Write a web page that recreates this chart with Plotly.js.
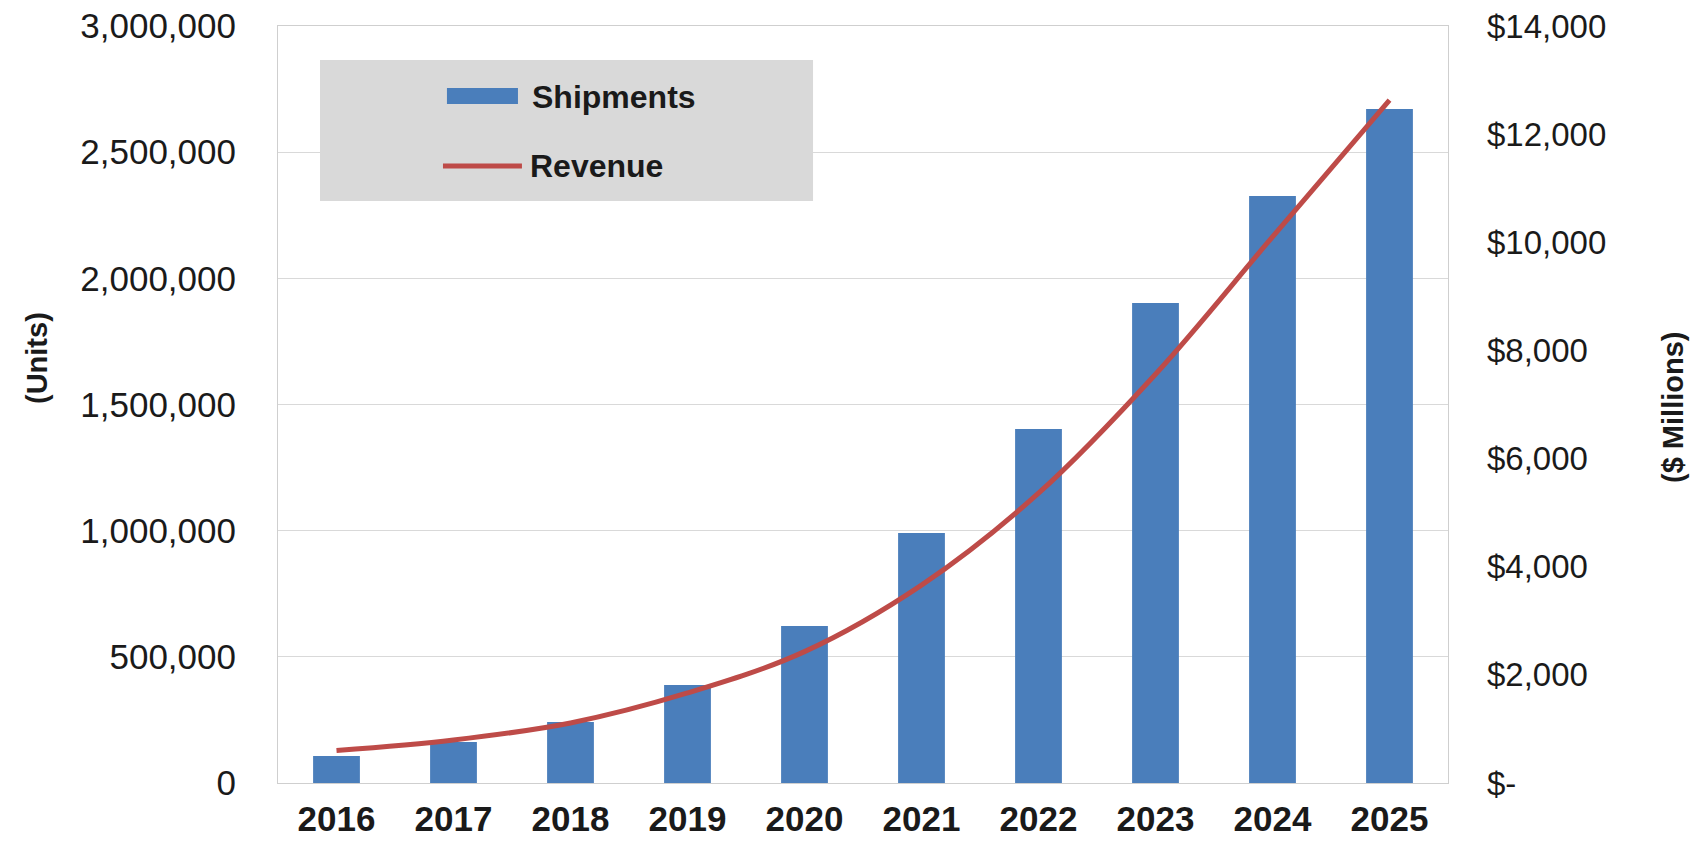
<!DOCTYPE html>
<html>
<head>
<meta charset="utf-8">
<script src="https://cdn.plot.ly/plotly-3.0.1.min.js"></script>
<style>
html,body{margin:0;padding:0;background:#fff;}
#chart{width:1691px;height:843px;}
</style>
</head>
<body>
<div id="chart"></div>
<script>
const years = ['2016','2017','2018','2019','2020','2021','2022','2023','2024','2025'];
const shipments = [107000, 162000, 242000, 388000, 622000, 991000, 1403000, 1902000, 2326000, 2671000];
const revenue = [600, 795, 1110, 1665, 2430, 3660, 5360, 7560, 10100, 12630];
const leftTicks = [0, 500000, 1000000, 1500000, 2000000, 2500000, 3000000];
const rightTicks = [0, 2000, 4000, 6000, 8000, 10000, 12000, 14000];
const rightTickText = ['$-', '$2,000', '$4,000', '$6,000', '$8,000', '$10,000', '$12,000', '$14,000'];

const barColor = '#4a7ebb';
const lineColor = '#be4b48';
const fontFam = 'Liberation Sans, Arial, sans-serif';

const traces = [
  {
    type: 'bar', name: 'Shipments', x: years, y: shipments,
    marker: {color: barColor}, yaxis: 'y', hoverinfo: 'x+y'
  },
  {
    type: 'scatter', mode: 'lines', name: 'Revenue', x: years, y: revenue,
    line: {color: lineColor, width: 5, shape: 'spline', smoothing: 1},
    yaxis: 'y2'
  }
];

const layout = {
  width: 1691, height: 843,
  margin: {l: 278, r: 243, t: 26, b: 60},
  paper_bgcolor: '#ffffff', plot_bgcolor: '#ffffff',
  showlegend: false,
  bargap: 0.6,
  font: {family: fontFam, color: '#1a1a1a'},
  xaxis: {
    type: 'category',
    tickfont: {size: 35, family: fontFam, color: '#1a1a1a', weight: 'bold'},
    showline: true, linecolor: '#cfcfcf', linewidth: 1, mirror: true,
    ticks: '', showgrid: false, ticklabelstandoff: 5
  },
  yaxis: {
    range: [0, 3000000], tickvals: leftTicks, tickformat: ',d',
    tickfont: {size: 35, family: fontFam, color: '#1a1a1a'},
    showgrid: true, gridcolor: '#d9d9d9', gridwidth: 1,
    showline: true, linecolor: '#cfcfcf', mirror: true,
    ticks: '', zeroline: false, ticklabelstandoff: 34
  },
  yaxis2: {
    range: [0, 14000], overlaying: 'y', side: 'right',
    tickvals: rightTicks, ticktext: rightTickText,
    tickfont: {size: 33, family: fontFam, color: '#1a1a1a'},
    showgrid: false, zeroline: false, ticks: '', showline: false,
    ticklabelstandoff: 38
  },
  shapes: [
    {type: 'rect', xref: 'paper', yref: 'paper', x0: 0.0359, x1: 0.4573, y0: 0.7688, y1: 0.9551,
     fillcolor: '#d9d9d9', line: {width: 0}, layer: 'above'},
    {type: 'rect', xref: 'paper', yref: 'paper', x0: 0.1444, x1: 0.2051, y0: 0.8970, y1: 0.9181,
     fillcolor: barColor, line: {width: 0}, layer: 'above'},
    {type: 'line', xref: 'paper', yref: 'paper', x0: 0.1410, x1: 0.2085, y0: 0.8151, y1: 0.8151,
     line: {color: lineColor, width: 5}, layer: 'above'}
  ],
  annotations: [
    {text: 'Shipments', xref: 'paper', yref: 'paper', x: 0.2154, y: 0.9060,
     xanchor: 'left', yanchor: 'middle', showarrow: false,
     font: {size: 32, family: fontFam, color: '#1a1a1a', weight: 'bold'}},
    {text: 'Revenue', xref: 'paper', yref: 'paper', x: 0.2137, y: 0.8151,
     xanchor: 'left', yanchor: 'middle', showarrow: false,
     font: {size: 32, family: fontFam, color: '#1a1a1a', weight: 'bold'}},
    {text: '(Units)', xref: 'paper', yref: 'paper', x: -0.206, y: 0.5614,
     xanchor: 'center', yanchor: 'middle', showarrow: false, textangle: -90,
     font: {size: 29, family: fontFam, color: '#1a1a1a', weight: 'bold'}},
    {text: '($ Millions)', xref: 'paper', yref: 'paper', x: 1.1923, y: 0.4967,
     xanchor: 'center', yanchor: 'middle', showarrow: false, textangle: -90,
     font: {size: 29, family: fontFam, color: '#1a1a1a', weight: 'bold'}}
  ]
};

Plotly.newPlot('chart', traces, layout, {displayModeBar: false, staticPlot: true});
</script>
</body>
</html>
